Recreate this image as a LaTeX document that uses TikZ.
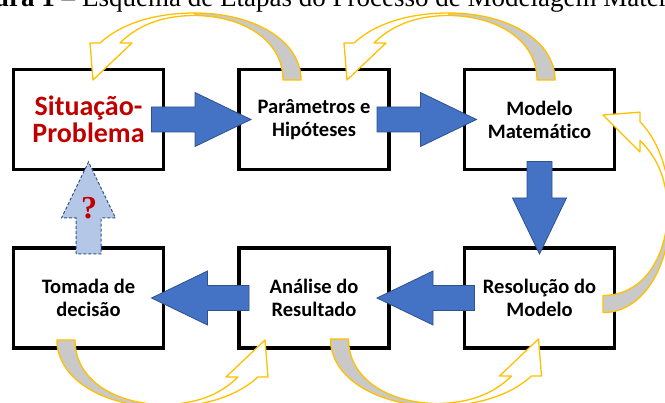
\documentclass[tikz,border=0pt]{standalone}
\usepackage{fontspec}
\setmainfont{Liberation Serif}
\newfontfamily\stagefont[Ligatures=NoCommon]{Carlito}
\usetikzlibrary{positioning,calc}

\definecolor{stagered}{HTML}{C00000}
\definecolor{flowblue}{HTML}{4472C4}
\definecolor{flowedge}{HTML}{2F528F}
\definecolor{askblue}{HTML}{B4C7E7}
\definecolor{loopyellow}{HTML}{FFC000}
\definecolor{loopgray}{HTML}{C9C9C9}

\tikzset{
  stage/.style={draw=black, line width=3.5pt, fill=white, outer sep=0pt, inner sep=0pt,
    minimum width=150pt, minimum height=100pt, align=center,
    font=\stagefont\bfseries\fontsize{20.5}{23}\selectfont},
  flowarrow/.style={fill=flowblue, draw=flowedge, line width=0.8pt, line join=miter},
  askarrow/.style={fill=askblue, draw=flowedge, line width=1pt, dash pattern=on 3pt off 2pt},
  loopback/.style={fill=loopgray, draw=loopyellow, line width=1.3pt, line join=round},
  loopfront/.style={fill=white, draw=loopyellow, line width=1.3pt, line join=round},
}

% block arrow: style, tail, tip
\newcommand{\blockarrow}[3]{%
  \coordinate (ta) at (#2);
  \coordinate (tp) at (#3);
  \coordinate (hb) at ($(tp)!56pt!(ta)$);
  \draw[#1] ($(ta)!12.5pt!90:(tp)$) -- ($(hb)!12.5pt!270:(ta)$) -- ($(hb)!27pt!270:(ta)$)
    -- (tp) -- ($(hb)!27pt!90:(ta)$) -- ($(hb)!12.5pt!90:(ta)$) -- ($(ta)!12.5pt!270:(tp)$) -- cycle;
}

% curved arrow in local coordinates, head tip at the origin
\newcommand{\loopcurve}{%
  \draw[loopback] (102,-67) .. controls (160,-67) and (208,-40) .. (208,0)
    -- (190,0) .. controls (190,-40) and (150,-64) .. (102,-64.5) -- cycle;
  \draw[loopfront] (0,0) -- (-3,-37) -- (7,-37) .. controls (30,-58) and (65,-67) .. (102,-67)
    -- (102,-64.5) .. controls (70,-64.5) and (45,-55) .. (27,-37) -- (39,-37) -- cycle;
}

\begin{document}
\begin{tikzpicture}[x=1pt,y=-1pt]
  \useasboundingbox (0,0) rectangle (665,403);
  \clip (0,0) rectangle (665,403);

  % Caption (cut at the top)
  \node[anchor=base west, inner sep=0pt, font=\fontsize{27}{32}\selectfont] (capmain) at (82,7)
    {Esquema de Etapas do Processo de Modelagem Matemática};
  \node[anchor=base east, inner sep=0pt, font=\fontsize{27}{32}\selectfont] (capfig)
    at ($(capmain.base west)+(-6.75,0)$) {\textbf{Figura 1} –};

  % Stages
  \node[stage, text=stagered, font=\stagefont\bfseries\fontsize{28}{27}\selectfont] (sit)
    at (88.5,119.5) {Situação-\\Problema};
  \node[stage, right=75.5pt of sit] (par) {Parâmetros e\\Hipóteses};
  \node[stage, right=75.5pt of par] (mod) {Modelo\\Matemático};
  \node[stage, below=78.5pt of mod] (res) {Resolução do\\Modelo};
  \node[stage, left=75.5pt of res] (ana) {Análise do\\Resultado};
  \node[stage, left=75.5pt of ana] (tom) {Tomada de\\decisão};

  % Curved return arrows
  \coordinate (t1) at ($(sit.north)+(4.5,10.5)$);
  \coordinate (t2) at ($(par.north)+(33,10.5)$);
  \coordinate (t3) at ($(ana.south)+(-49,-8)$);
  \coordinate (t4) at ($(res.south)+(-1,-9)$);
  \coordinate (t5) at ($(mod.east)+(-11.5,-4.5)$);
  \begin{scope}[shift={(t1)}] \loopcurve \end{scope}
  \begin{scope}[shift={(t2)}] \loopcurve \end{scope}
  \begin{scope}[shift={(t3)}, x={(-1pt,0pt)}, y={(0pt,1pt)}] \loopcurve \end{scope}
  \begin{scope}[shift={(t4)}, x={(-1pt,0pt)}, y={(0pt,1pt)}] \loopcurve \end{scope}
  \begin{scope}[shift={(t5)}, x={(0pt,-0.95pt)}, y={(-1pt,0pt)}] \loopcurve \end{scope}

  % Main flow
  \blockarrow{flowarrow}{$(sit.east)!-12pt!(par.west)$}{$(par.west)!-12pt!(sit.east)$}
  \blockarrow{flowarrow}{$(par.east)!-12pt!(mod.west)$}{$(mod.west)!-12pt!(par.east)$}
  \blockarrow{flowarrow}{$(mod.south)!-8pt!(res.north)$}{$(res.north)!-6pt!(mod.south)$}
  \blockarrow{flowarrow}{$(res.west)!-10pt!(ana.east)$}{$(ana.east)!-12pt!(res.west)$}
  \blockarrow{flowarrow}{$(ana.west)!-10pt!(tom.east)$}{$(tom.east)!-12pt!(ana.west)$}

  % Open question back to the problem
  \blockarrow{askarrow}{$(tom.north)!-6pt!(sit.south)$}{$(sit.south)!-7.5pt!(tom.north)$}
  \node[text=stagered, font=\bfseries\fontsize{32}{34}\selectfont] (ask) at (89,208) {?};
\end{tikzpicture}
\end{document}
